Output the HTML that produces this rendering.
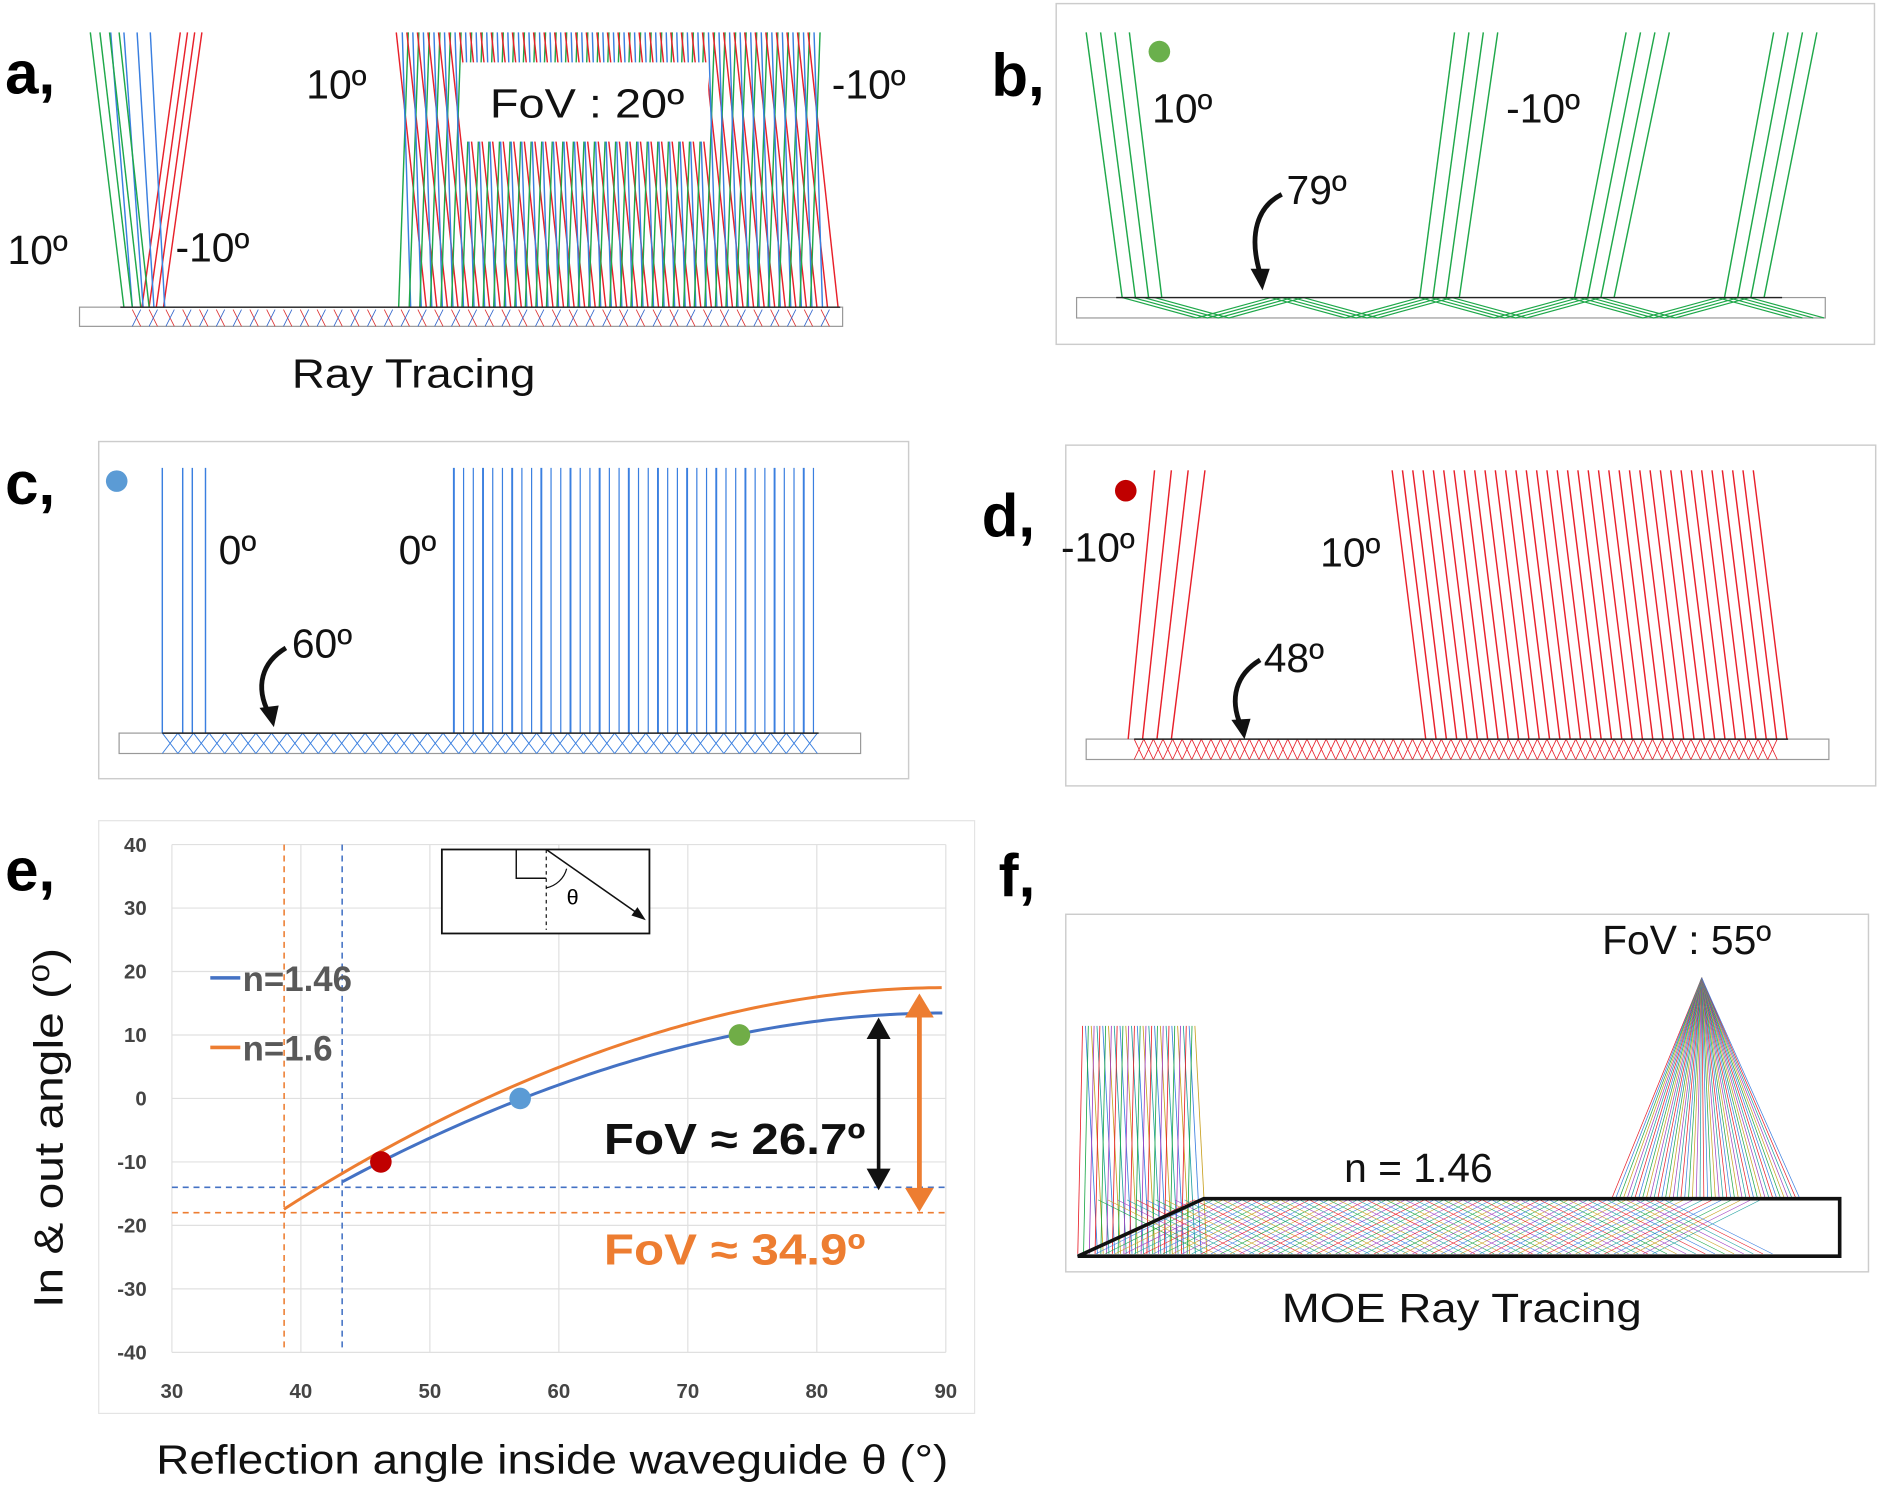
<!DOCTYPE html>
<html><head><meta charset="utf-8"><style>
html,body{margin:0;padding:0;background:#fff}
svg{display:block}
text{font-family:"Liberation Sans",sans-serif}
</style></head><body>
<svg id="s" xmlns="http://www.w3.org/2000/svg" width="1882" height="1489" viewBox="0 0 1568 1241">
<rect width="1568" height="1241" fill="#fff"/>
<g id="g"></g>
<rect x="880" y="3" width="682" height="284" fill="none" stroke="#ccc" stroke-width="1.2"/>
<rect x="82" y="368" width="675" height="281" fill="none" stroke="#ccc" stroke-width="1.2"/>
<rect x="888" y="371" width="675" height="284" fill="none" stroke="#ccc" stroke-width="1.2"/>
<rect x="82" y="684" width="730" height="494" fill="none" stroke="#e4e4e4" stroke-width="1"/>
<rect x="888" y="762" width="669" height="298" fill="none" stroke="#ccc" stroke-width="1.2"/>
<g font-weight="bold" font-size="50" font-family="Liberation Sans">
<text x="4" y="78">a,</text><text x="826" y="80">b,</text><text x="4" y="420">c,</text>
<text x="818" y="447">d,</text><text x="4" y="742">e,</text><text x="832" y="747">f,</text></g>
<g font-size="34" fill="#111">
<text x="255" y="82">10º</text><text x="693" y="82">-10º</text>
<text x="6" y="220">10º</text><text x="146" y="218">-10º</text>
<rect x="385" y="52" width="205" height="66" fill="#fff"/>
<text x="408" y="98" textLength="162" lengthAdjust="spacingAndGlyphs">FoV : 20º</text>
<text x="243" y="323" textLength="203" lengthAdjust="spacingAndGlyphs">Ray Tracing</text>
<text x="960" y="102">10º</text><text x="1255" y="102">-10º</text><text x="1072" y="170">79º</text>
<text x="182" y="470">0º</text><text x="332" y="470">0º</text><text x="243" y="548">60º</text>
<text x="884" y="468">-10º</text><text x="1100" y="472">10º</text><text x="1053" y="560">48º</text>
<text x="1335" y="795">FoV : 55º</text><text x="1120" y="985">n = 1.46</text>
<text x="1068" y="1102" textLength="300" lengthAdjust="spacingAndGlyphs">MOE Ray Tracing</text>
<text x="130" y="1228" font-size="34" textLength="660" lengthAdjust="spacingAndGlyphs">Reflection angle inside waveguide θ (°)</text>
<text transform="translate(52,1090) rotate(-90)" font-size="34" textLength="300" lengthAdjust="spacingAndGlyphs">In &amp; out angle (⁰)</text>
</g>
<circle cx="966" cy="43" r="9" fill="#6ab04c"/>
<circle cx="97" cy="401" r="9" fill="#5b9bd5"/>
<circle cx="938" cy="409" r="9" fill="#c00000"/>
<g fill="none" stroke="#111" stroke-width="4">
<path d="M1068,162 C1048,172 1040,195 1050,228"/><path d="M238,540 C218,552 212,572 224,595"/><path d="M1050,550 C1030,562 1024,582 1034,605"/></g>
<g fill="#111"><polygon points="1042,224 1058,224 1052,242"/><polygon points="216,590 232,588 228,606"/><polygon points="1026,600 1042,599 1037,616"/></g>
<g font-size="17" fill="#444" font-weight="bold" id="ticks"></g>
<rect x="368" y="708" width="173" height="70" fill="#fff" stroke="#111" stroke-width="1.5"/>
<path d="M430,708 V732 H455" fill="none" stroke="#111" stroke-width="1.2"/>
<line x1="455" y1="708" x2="455" y2="775" stroke="#111" stroke-dasharray="3,3"/>
<line x1="455" y1="708" x2="535" y2="764" stroke="#111" stroke-width="1.3"/>
<polygon points="538,767 526,763 531,756" fill="#111"/>
<path d="M455,740 A22,22 0 0 0 472,724" fill="none" stroke="#111"/>
<text x="472" y="754" font-size="18">θ</text>
<line x1="175" y1="815" x2="200" y2="815" stroke="#4472c4" stroke-width="3"/>
<line x1="175" y1="873" x2="200" y2="873" stroke="#ed7d31" stroke-width="3"/>
<text x="202" y="826" font-size="29" font-weight="bold" fill="#595959">n=1.46</text>
<text x="202" y="884" font-size="29" font-weight="bold" fill="#595959">n=1.6</text>
<text x="503" y="962" font-size="36" font-weight="bold" fill="#111" textLength="218" lengthAdjust="spacingAndGlyphs">FoV ≈ 26.7º</text>
<text x="503" y="1054" font-size="36" font-weight="bold" fill="#ed7d31" textLength="218" lengthAdjust="spacingAndGlyphs">FoV ≈ 34.9º</text>
</svg>
<script>
const NS="http://www.w3.org/2000/svg",G=document.getElementById('g'),T=document.getElementById('ticks');
function el(t,a,p){const e=document.createElementNS(NS,t);for(const k in a)e.setAttribute(k,a[k]);(p||G).appendChild(e);return e}
function L(x1,y1,x2,y2,c,w,d){el('line',{x1,y1,x2,y2,stroke:c,'stroke-width':w||1.2,...(d?{'stroke-dasharray':d}:{})})}
const R='#e8202a',B='#3a7fe0',Gr='#1fa84a';
el('rect',{x:66,y:256,width:636,height:16,fill:'none',stroke:'#999'});
for(let i=0;i<4;i++){L(75+i*8,27,103+i*7,256,Gr);L(150+i*6,27,118+i*6,256,R);L(92+i*11,27,110+i*9,256,B);}
for(let i=0;i<40;i++){let x=330+i*8.8;L(x,27,x+25,256,R);L(x+10,27,x+2,256,Gr);L(x+5,27,x+12,256,B);}
for(let x=110;x<690;x+=14){L(x,258,x+7,272,'#d33',0.7);L(x+7,258,x,272,'#36c',0.7);}
L(100,256,700,256,'#222',1.2);
el('rect',{x:897,y:248,width:624,height:17,fill:'none',stroke:'#999'});
[[905,935],[1212,1183],[1355,1312],[1478,1437]].forEach(([t,b])=>{for(let i=0;i<4;i++)L(t+i*12,27,b+i*11,248,Gr)});
for(let k=0;k<4;k++){let p='M'+(935+k*9)+',248';for(let x=935+k*9,j=0;x<1480;x+=62,j++)p+=' L'+(x+62)+','+(j%2?248:265);el('path',{d:p,fill:'none',stroke:Gr,'stroke-width':1});}
L(930,248,1485,248,'#222',1.2);
el('rect',{x:99,y:611,width:618,height:17,fill:'none',stroke:'#999'});
[135,152,160,171].forEach(x=>L(x,390,x,611,B));
for(let i=0;i<38;i++){let x=378+i*8.1;L(x,390,x,611,B,i%3?1:1.6);}
for(let x=135;x<680;x+=13){L(x,611,x+13,628,B,0.8);L(x+13,611,x,628,B,0.8);}
L(135,611,682,611,'#222',1.2);
el('rect',{x:905,y:616,width:619,height:17,fill:'none',stroke:'#999'});
for(let i=0;i<4;i++)L(962+i*14,392,940+i*12,616,R);
for(let i=0;i<36;i++){let x=1160+i*8.6;L(x,392,x+28,616,R);}
for(let x=945;x<1480;x+=8){L(x,616,x+8,633,R,0.7);L(x+8,616,x,633,R,0.7);}
L(945,616,1490,616,'#222',1.2);
const X=v=>143+(v-30)*10.75,Y=v=>915.5-v*5.29;
for(let v=30;v<=90;v+=10){L(X(v),704,X(v),1127,'#e0e0e0',1);el('text',{x:X(v),y:1165,'text-anchor':'middle'},T).textContent=v;}
for(let v=-40;v<=40;v+=10){L(143,Y(v),788,Y(v),'#e0e0e0',1);el('text',{x:122,y:Y(v)+6,'text-anchor':'end'},T).textContent=v;}
L(X(38.7),704,X(38.7),1127,'#ed7d31',1.3,'5,4');L(X(43.2),704,X(43.2),1127,'#4472c4',1.3,'5,4');
L(143,Y(-14),788,Y(-14),'#4472c4',1.3,'5,4');L(143,Y(-18),788,Y(-18),'#ed7d31',1.3,'5,4');
function curve(n,c,col){const th0=Math.asin(1/n)*180/Math.PI;let p='';for(let t=th0;t<=90.01;t+=0.5){const f=Math.asin(n*Math.sin(t*Math.PI/180)-c)*180/Math.PI;p+=(p?' L':'M')+X(t)+','+Y(f);}el('path',{d:p,fill:'none',stroke:col,'stroke-width':2.5});}
curve(1.6,1.3,'#ed7d31');curve(1.46,1.227,'#4472c4');
el('circle',{cx:X(46.2),cy:Y(-10),r:9,fill:'#c00000'});el('circle',{cx:X(57),cy:Y(0),r:9,fill:'#5b9bd5'});el('circle',{cx:X(74),cy:Y(10),r:9,fill:'#70ad47'});
L(732,862,732,978,'#111',3);el('polygon',{points:'722,866 742,866 732,848',fill:'#111'});el('polygon',{points:'722,974 742,974 732,992',fill:'#111'});
L(766,842,766,996,'#ed7d31',4);el('polygon',{points:'754,848 778,848 766,828',fill:'#ed7d31'});el('polygon',{points:'754,990 778,990 766,1010',fill:'#ed7d31'});
const cols=['#e8202a','#3a7fe0','#1fa84a','#c8a020','#a040c0','#20a0a0'];
for(let i=0;i<40;i++)L(902+i*2.4,855,902+i*2.4+(i%2?10:-4),1045,cols[i%6],0.7);
for(let i=0;i<50;i++)L(1418,815,1343+i*3.2,999,cols[i%6],0.6);
for(let i=0;i<60;i++){let x=905+i*8;L(x,1045,x+90,1000,cols[i%6],0.5);L(x+100,1045,x+10,1000,cols[(i+2)%6],0.5);}
el('path',{d:'M898,1047 L1003,999 L1533,999 L1533,1047 Z',fill:'none',stroke:'#111','stroke-width':3});
</script>
</body></html>
